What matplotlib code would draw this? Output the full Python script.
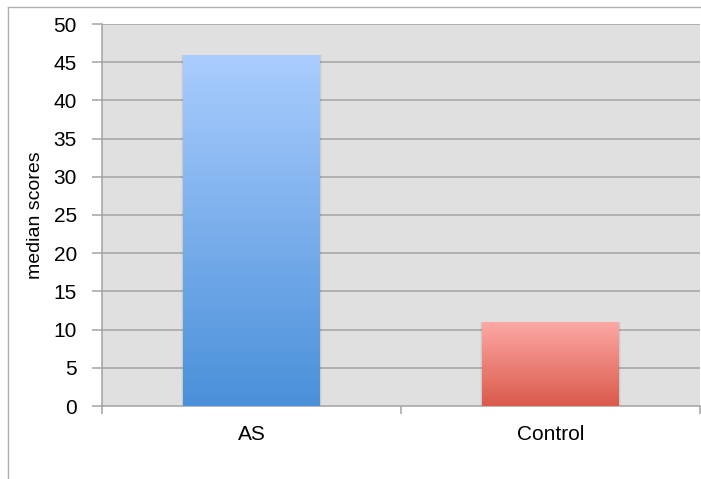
import numpy as np
import matplotlib
matplotlib.use('Agg')
import matplotlib.pyplot as plt
from matplotlib.colors import LinearSegmentedColormap
from matplotlib.patches import Rectangle

# Median scores per group
groups = ['AS', 'Control']
medians = [46, 11]
# Gradient colours for each bar (top, bottom)
bar_colours = [('#aacdfe', '#4a90d9'), ('#fda9a5', '#da5a4b')]
yticks = list(range(0, 51, 5))

plt.rcParams['font.family'] = ['Liberation Sans', 'DejaVu Sans']

fig = plt.figure(figsize=(7.01, 4.79), dpi=100)

# Outer chart frame (only the top and left edges show)
fig.add_artist(plt.Line2D([8 / 701, 8 / 701], [0, 1 - 7 / 479], color='#b0b0b0', lw=1))
fig.add_artist(plt.Line2D([8 / 701, 1], [1 - 7 / 479, 1 - 7 / 479], color='#b0b0b0', lw=1))

ax = fig.add_axes([102 / 701, 1 - 406 / 479, 598 / 701, 382 / 479])
ax.set_facecolor('#e0e0e0')

# Horizontal gridlines
for t in yticks[1:]:
    ax.axhline(t, color='#a3a3a3', lw=1.1, zorder=1)

width = 0.455
for i, (val, (top, bot)) in enumerate(zip(medians, bar_colours)):
    x0 = i - width / 2
    # soft shadow behind the bar
    for k, a in enumerate([0.03, 0.05, 0.07]):
        pad = 0.005 * (3 - k)
        ax.add_patch(Rectangle((x0 - pad * 0.6, -0.3), width + pad * 1.2, val + 0.1 + pad * 12,
                               color='black', alpha=a, lw=0, zorder=2))
    cmap = LinearSegmentedColormap.from_list('g%d' % i, [bot, top])
    grad = np.linspace(0, 1, 256).reshape(-1, 1)
    im = ax.imshow(grad, cmap=cmap, aspect='auto', origin='lower',
                   extent=[x0, x0 + width, 0, val], zorder=3)
    rect = Rectangle((x0, 0), width, val, transform=ax.transData, fill=False, lw=0)
    ax.add_patch(rect)
    im.set_clip_path(rect)

ax.set_xlim(-0.5, len(groups) - 0.5)
ax.set_ylim(0, 50)

for side in ['top', 'right']:
    ax.spines[side].set_visible(False)
for side in ['left', 'bottom']:
    ax.spines[side].set_color('#a3a3a3')
    ax.spines[side].set_linewidth(1.1)

ax.set_yticks(yticks)
ax.tick_params(axis='y', direction='out', length=7, color='#a3a3a3', width=1.1,
               labelsize=15, pad=11)
# category ticks sit on the boundaries between groups
ax.set_xticks([-0.5, 0.5, 1.5])
ax.set_xticklabels([])
ax.set_xticks(range(len(groups)), minor=True)
ax.set_xticklabels(groups, minor=True)
ax.tick_params(axis='x', which='major', direction='out', length=6, color='#a3a3a3', width=1.1)
ax.tick_params(axis='x', which='minor', length=0, labelsize=15, pad=14)

ax.set_ylabel('median scores', fontsize=14, labelpad=7)

fig.savefig('out.png', dpi=100)
